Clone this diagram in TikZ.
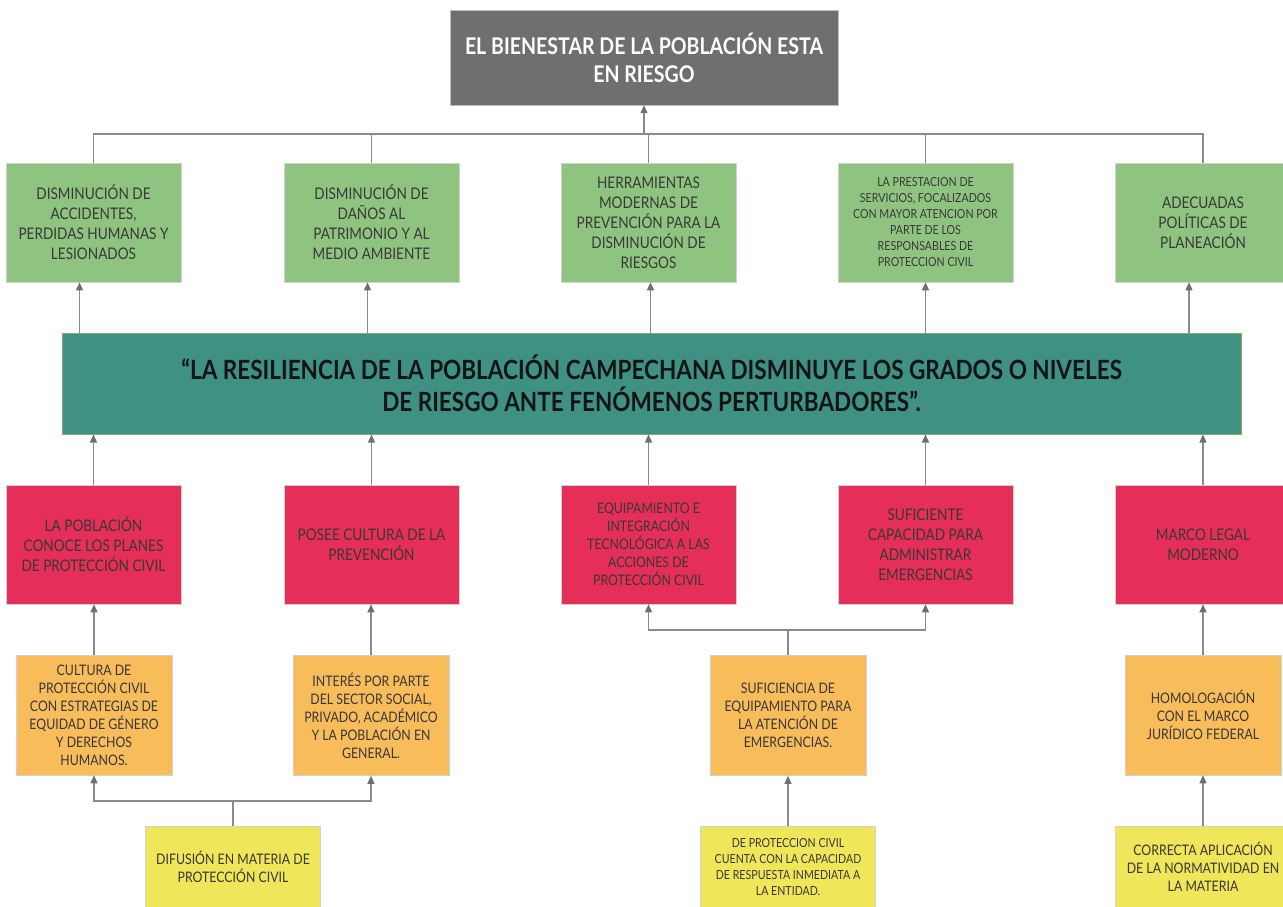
\documentclass[tikz,border=0pt]{standalone}
\usepackage{fontspec}
\setmainfont{Lato}[FakeStretch=0.85]
\usetikzlibrary{arrows.meta}

\definecolor{topgray}{HTML}{6F6F6F}
\definecolor{effgreen}{HTML}{8FC480}
\definecolor{mainteal}{HTML}{3F9184}
\definecolor{mainedge}{HTML}{8AAA5C}
\definecolor{causered}{HTML}{E52E58}
\definecolor{meanorange}{HTML}{F9BC5B}
\definecolor{actyellow}{HTML}{F0E65A}
\definecolor{txtgray}{HTML}{383838}
\definecolor{linegray}{HTML}{8A8A8A}

\tikzset{
  card/.style={draw=black!18, line width=0.6pt, align=center, inner sep=2pt,
    minimum width=175, minimum height=119, text=txtgray,
    font=\fontsize{16}{20}\selectfont},
  effect/.style={card, fill=effgreen},
  cause/.style={card, fill=causered},
  means/.style={card, fill=meanorange, minimum width=156, minimum height=120,
    font=\fontsize{14.5}{18}\selectfont},
  action/.style={card, fill=actyellow, minimum width=175, minimum height=82,
    font=\fontsize{14.5}{18}\selectfont},
  link/.style={draw=linegray, line width=1.2pt},
  arrow/.style={link, -{Triangle[width=7pt,length=8pt,fill=topgray,color=topgray]}}
}

\begin{document}
\begin{tikzpicture}[x=1pt,y=-1pt]
  \useasboundingbox (0,0) rectangle (1283,907);
  \clip (0,0) rectangle (1283,907);

  % problem
  \node[fill=topgray, draw=black!25, minimum width=388, minimum height=95,
    text=white, align=center, font=\bfseries\fontsize{23}{28}\selectfont]
    (top) at (644,57.5) {EL BIENESTAR DE LA POBLACIÓN ESTA\\EN RIESGO};

  % effects
  \node[effect] (g1) at (93.5,222.5) {DISMINUCIÓN DE\\ACCIDENTES,\\PERDIDAS HUMANAS Y\\LESIONADOS};
  \node[effect] (g2) at (371.5,222.5) {DISMINUCIÓN DE\\DAÑOS AL\\PATRIMONIO Y AL\\MEDIO AMBIENTE};
  \node[effect] (g3) at (648.5,222.5) {HERRAMIENTAS\\MODERNAS DE\\PREVENCIÓN PARA LA\\DISMINUCIÓN DE\\RIESGOS};
  \node[effect, font=\fontsize{12.5}{16}\selectfont] (g4) at (925.5,222.5)
    {LA PRESTACION DE\\SERVICIOS, FOCALIZADOS\\CON MAYOR ATENCION POR\\PARTE DE LOS\\RESPONSABLES DE\\PROTECCION CIVIL};
  \node[effect] (g5) at (1203,222.5) {ADECUADAS\\POLÍTICAS DE\\PLANEACIÓN};

  % central objective
  \node[fill=mainteal, draw=mainedge, line width=1pt, minimum width=1179, minimum height=101,
    text=black!92, align=center, font=\bfseries\fontsize{26.5}{32}\selectfont]
    (obj) at (651.5,383.5) {“LA RESILIENCIA DE LA POBLACIÓN CAMPECHANA DISMINUYE LOS GRADOS O NIVELES\\DE RIESGO ANTE FENÓMENOS PERTURBADORES”.};

  % causes
  \node[cause] (r1) at (93.5,544.5) {LA POBLACIÓN\\CONOCE LOS PLANES\\DE PROTECCIÓN CIVIL};
  \node[cause] (r2) at (371.5,544.5) {POSEE CULTURA DE LA\\PREVENCIÓN};
  \node[cause, font=\fontsize{14.5}{18}\selectfont] (r3) at (648.5,544.5)
    {EQUIPAMIENTO E\\INTEGRACIÓN\\TECNOLÓGICA A LAS\\ACCIONES DE\\PROTECCIÓN CIVIL};
  \node[cause] (r4) at (925.5,544.5) {SUFICIENTE\\CAPACIDAD PARA\\ADMINISTRAR\\EMERGENCIAS};
  \node[cause] (r5) at (1203,544.5) {MARCO LEGAL\\MODERNO};

  % means
  \node[means] (m1) at (94,715) {CULTURA DE\\PROTECCIÓN CIVIL\\CON ESTRATEGIAS DE\\EQUIDAD DE GÉNERO\\Y DERECHOS\\HUMANOS.};
  \node[means] (m2) at (371,715.5) {INTERÉS POR PARTE\\DEL SECTOR SOCIAL,\\PRIVADO, ACADÉMICO\\Y LA POBLACIÓN EN\\GENERAL.};
  \node[means] (m3) at (788,715.5) {SUFICIENCIA DE\\EQUIPAMIENTO PARA\\LA ATENCIÓN DE\\EMERGENCIAS.};
  \node[means] (m4) at (1203,715) {HOMOLOGACIÓN\\CON EL MARCO\\JURÍDICO FEDERAL};

  % actions
  \node[action] (y1) at (233,867) {DIFUSIÓN EN MATERIA DE\\PROTECCIÓN CIVIL};
  \node[action, font=\fontsize{12.5}{16}\selectfont] (y2) at (788,867)
    {DE PROTECCION CIVIL\\CUENTA CON LA CAPACIDAD\\DE RESPUESTA INMEDIATA A\\LA ENTIDAD.};
  \node[action] (y3) at (1203,867) {CORRECTA APLICACIÓN\\DE LA NORMATIVIDAD EN\\LA MATERIA};

  % effects to problem
  \coordinate (bus) at (644,134);
  \draw[arrow] (bus) -- (top.south);
  \foreach \g in {g1,g2,g3,g4,g5}
    \draw[link] (\g.north) |- (bus);

  % objective to effects
  \foreach \g/\dx in {g1/-14,g2/-4,g3/2,g4/0,g5/-14}
    \draw[arrow] ([xshift=\dx]\g.south |- obj.north) -- ([xshift=\dx]\g.south);

  % causes to objective
  \foreach \r in {r1,r2,r3,r4,r5}
    \draw[arrow] (\r.north) -- (\r.north |- obj.south);

  % means to causes
  \draw[arrow] (m1.north) -- (m1.north |- r1.south);
  \draw[arrow] (m2.north) -- (m2.north |- r2.south);
  \draw[arrow] (m4.north) -- (m4.north |- r5.south);
  \coordinate (split3) at (788,630);
  \draw[link] (m3.north) -- (split3);
  \draw[arrow] (split3) -| (r3.south);
  \draw[arrow] (split3) -| (r4.south);

  % actions to means
  \coordinate (split1) at (233,801);
  \draw[link] (y1.north) -- (split1);
  \draw[arrow] (split1) -| (m1.south);
  \draw[arrow] (split1) -| (m2.south);
  \draw[arrow] (y2.north) -- (m3.south);
  \draw[arrow] (y3.north) -- (m4.south);
\end{tikzpicture}
\end{document}
